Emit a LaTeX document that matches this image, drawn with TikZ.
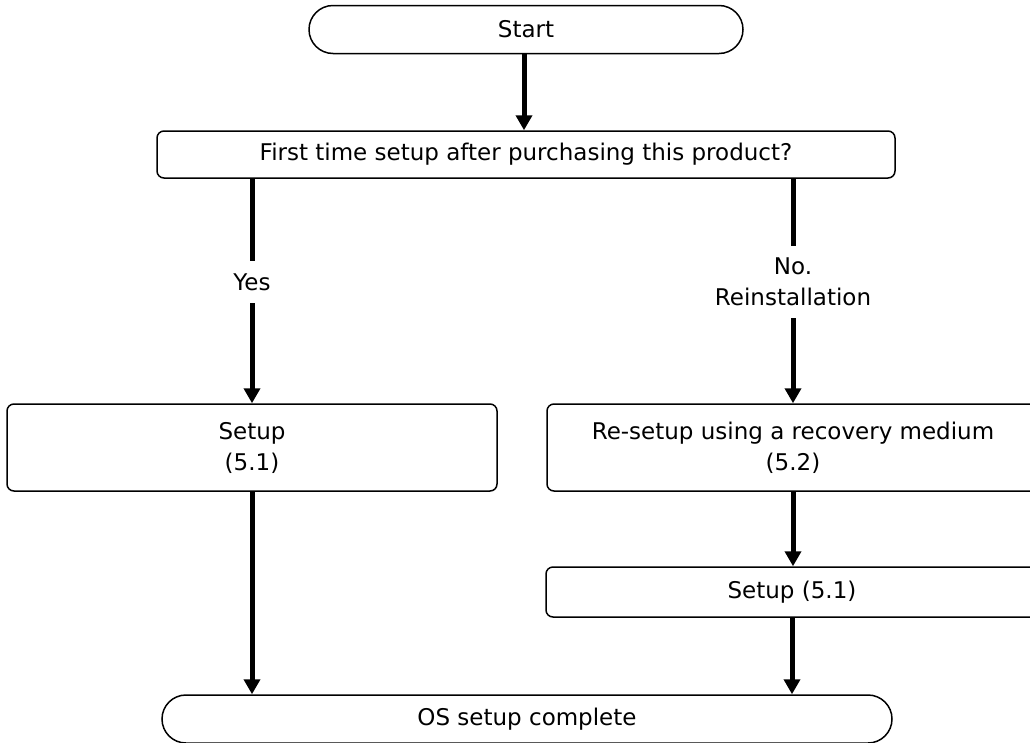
\documentclass[tikz,border=0pt]{standalone}
\usepackage{fontspec}
\setmainfont{DejaVu Sans}
\usetikzlibrary{arrows.meta,positioning,calc}
\definecolor{ink}{HTML}{000000}

\begin{document}
\begin{tikzpicture}[x=1pt, y=-1pt, font=\fontsize{23}{31}\selectfont,
  term/.style={draw=ink, line width=1.5pt, rounded corners=24pt, minimum height=48pt, inner sep=0pt, align=center},
  box/.style={draw=ink, line width=1.5pt, rounded corners=7pt, inner sep=0pt, align=center},
  arr/.style={-{Triangle[width=16pt, length=15pt]}, ink, line width=5pt},
  lbl/.style={fill=white, inner xsep=3pt, inner ysep=12pt, align=center}]
  \useasboundingbox (0,0) rectangle (1030,742);
  \clip (0,0) rectangle (1030,742);
  \node[term, minimum width=434pt] (start) at (526,29.5) {Start};
  \node[box, minimum width=738pt, minimum height=47pt] (first) at (526,154.5) {First time setup after purchasing this product?};
  \node[box, minimum width=490pt, minimum height=87pt] (setup) at (252,447.5) {Setup\\ (5.1)};
  \node[box, minimum width=492pt, minimum height=87pt] (recov) at (793,447.5) {Re-setup using a recovery medium\\ (5.2)};
  \node[box, minimum width=492pt, minimum height=50pt] (setupb) at (792,592) {Setup (5.1)};
  \node[term, minimum width=730pt] (done) at (527,719) {OS setup complete};
  \draw[arr] (start.south -| 524,0) -- (first.north -| 524,0);
  \draw[arr] (first.south -| setup.north) -- node[lbl, pos=0.46] {Yes} (setup.north);
  \draw[arr] (first.south -| recov.north) -- node[lbl, pos=0.46] {No.\\ Reinstallation} (recov.north);
  \draw[arr] (setup.south) -- (setup.south |- done.north);
  \draw[arr] (recov.south) -- (recov.south |- setupb.north);
  \draw[arr] (setupb.south) -- (setupb.south |- done.north);
\end{tikzpicture}
\end{document}
